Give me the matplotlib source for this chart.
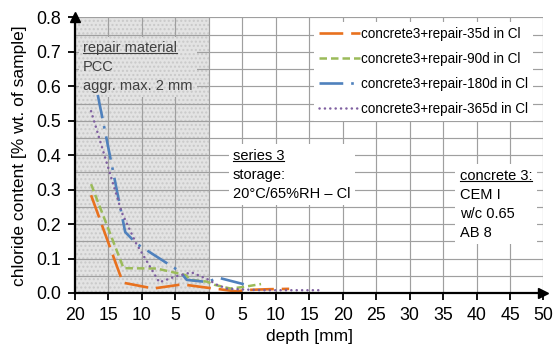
import matplotlib
matplotlib.use("Agg")
import matplotlib.pyplot as plt
from matplotlib.ticker import MultipleLocator, FuncFormatter
from matplotlib.lines import Line2D

plt.rcParams['font.family'] = ['Liberation Sans', 'DejaVu Sans']

# depth: negative values = inside repair material (left part), positive = concrete
depth_35 = [-17.6, -12.85, -8.3, -4.0, -0.5, 4.0, 6.0, 9.0, 12.0]
cl_35 = [0.284, 0.030, 0.013, 0.025, 0.016, 0.005, 0.009, 0.011, 0.012]

depth_90 = [-17.6, -12.75, -7.8, -3.5, -2.7, -0.3, 0.8, 3.2, 5.0, 7.8]
cl_90 = [0.316, 0.072, 0.071, 0.052, 0.038, 0.033, 0.024, 0.013, 0.017, 0.026]

depth_180 = [-16.6, -12.5, -10.8, -4.3, -3.3, -0.3, 1.5, 6.3]
cl_180 = [0.575, 0.177, 0.143, 0.062, 0.038, 0.032, 0.044, 0.020]

depth_365 = [-17.6, -13.0, -10.9, -7.4, -5.0, -2.6, -0.3, 1.2, 2.8, 8.0, 17.0]
cl_365 = [0.528, 0.233, 0.145, 0.031, 0.048, 0.060, 0.041, 0.024, 0.012, 0.008, 0.008]

series_labels = ["concrete3+repair-35d in Cl", "concrete3+repair-90d in Cl",
                 "concrete3+repair-180d in Cl", "concrete3+repair-365d in Cl"]

repair_lines = ["repair material", "PCC", "aggr. max. 2 mm"]
series_lines = ["series 3", "storage:", "20°C/65%RH – Cl"]
concrete_lines = ["concrete 3:", "CEM I", "w/c 0.65", "AB 8"]

fig = plt.figure(figsize=(5.54, 3.49), dpi=100)
ax = fig.add_axes([0.1354, 0.1605, 0.8456, 0.7894])
ax.set_xlim(-20, 50)
ax.set_ylim(0, 0.8)

shade_col = '#e3e3e3'
hatch_col = '#c9c9c9'
ax.axvspan(-20, 0, facecolor=shade_col, edgecolor=hatch_col, hatch='....', lw=0, zorder=0.1)

ax.xaxis.set_major_locator(MultipleLocator(5))
ax.yaxis.set_major_locator(MultipleLocator(0.1))
ax.yaxis.set_minor_locator(MultipleLocator(0.05))
ax.xaxis.set_major_formatter(FuncFormatter(lambda v, p: f"{abs(v):g}"))
ax.yaxis.set_major_formatter(FuncFormatter(lambda v, p: f"{v:.1f}"))
ax.set_axisbelow(True)
ax.grid(which='both', color='#9f9f9f', lw=0.85)
ax.tick_params(which='minor', length=0)
ax.tick_params(which='major', direction='out', length=5, width=1.3, labelsize=12.8, pad=5)

for s in ['top', 'right']:
    ax.spines[s].set_visible(False)
for s in ['left', 'bottom']:
    ax.spines[s].set_linewidth(1.6)
    ax.spines[s].set_color('black')
    ax.spines[s].set_zorder(5)
ax.plot(1, 0, marker='>', ms=7, color='k', transform=ax.transAxes, clip_on=False, zorder=6)
ax.plot(0, 1, marker='^', ms=7, color='k', transform=ax.transAxes, clip_on=False, zorder=6)

ax.plot(depth_35, cl_35, color='#E8711E', lw=1.9, linestyle=(0, (9, 3)), label=series_labels[0], zorder=4)
ax.plot(depth_90, cl_90, color='#9BBB59', lw=1.8, linestyle=(0, (3, 1.6)), label=series_labels[1], zorder=4)
ax.plot(depth_180, cl_180, color='#4F81BD', lw=1.9, linestyle=(0, (9, 3, 1, 3)), label=series_labels[2], zorder=4)
ax.plot(depth_365, cl_365, color='#7F5FA0', lw=1.8, linestyle=(0, (0.05, 2.1)), dash_capstyle='round',
        label=series_labels[3], zorder=4)

leg = ax.legend(loc='upper right', bbox_to_anchor=(0.978, 0.984), fontsize=9.75, frameon=True,
                facecolor='white', edgecolor='none', framealpha=1, fancybox=False,
                handlelength=3.0, handletextpad=0.12, labelspacing=0.82, borderpad=0.35,
                borderaxespad=0)
leg.set_zorder(3)

ax.set_xlabel('depth [mm]', fontsize=12.5)
ax.set_ylabel('chloride content [% wt. of sample]', fontsize=12.5)
ax.xaxis.set_label_coords(0.5, -0.13)
ax.yaxis.set_label_coords(-0.102, 0.5)

FS = 10.5
LS = 1.45
firsts = []


def block(x, y, lines, color, bg, hatch=None):
    bb = dict(boxstyle='square,pad=0.3', facecolor=bg, lw=0)
    if hatch:
        bb.update(hatch=hatch, edgecolor=hatch_col)
    else:
        bb.update(edgecolor='none')
    ax.text(x, y, "\n".join(lines), ha='left', va='top', fontsize=FS, color=color,
            linespacing=LS, zorder=3, bbox=bb)
    f = ax.text(x, y, lines[0], ha='left', va='top', fontsize=FS, alpha=0, zorder=3)
    firsts.append((f, color))


block(-18.8, 0.732, repair_lines, '#404040', shade_col, hatch='....')
block(3.6, 0.419, series_lines, 'black', 'white')
block(37.5, 0.361, concrete_lines, 'black', 'white')

fig.canvas.draw()
r = fig.canvas.get_renderer()
inv = fig.transFigure.inverted()
for f, c in firsts:
    b = f.get_window_extent(r)
    (x0, y0), (x1, y1) = inv.transform([(b.x0, b.y0 + 1.8), (b.x1, b.y0 + 1.8)])
    fig.add_artist(Line2D([x0, x1], [y0, y1], transform=fig.transFigure, color=c, lw=0.8, zorder=10))

fig.savefig('out.png', dpi=100)
